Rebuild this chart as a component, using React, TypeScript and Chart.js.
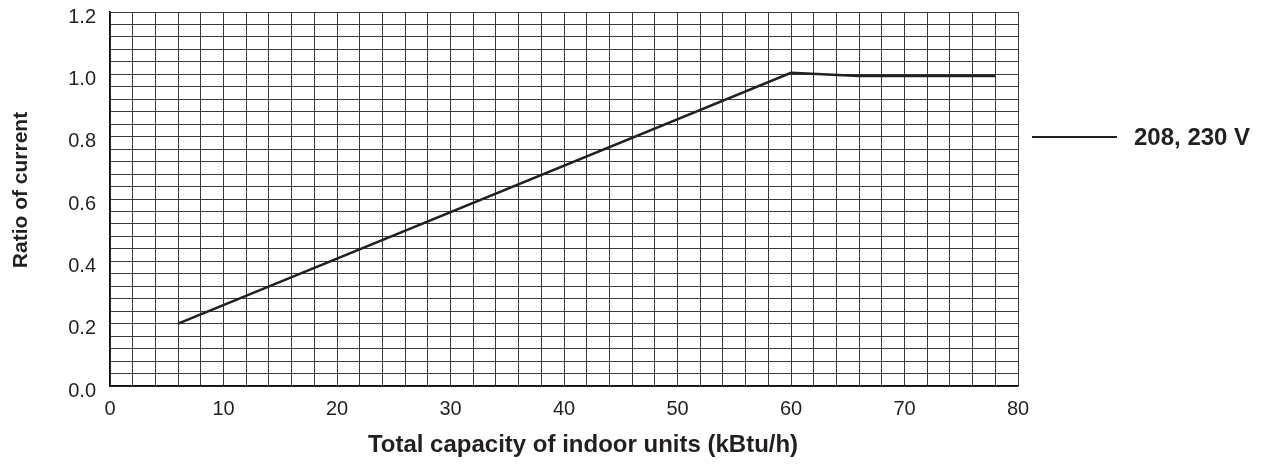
import React, { useEffect, useRef } from "react";
import { Chart, registerables } from "chart.js";

Chart.register(...registerables);

const capacity = [6, 60, 66, 78];
const ratio = [0.2, 1.005, 0.995, 0.995];
const seriesLabel = "208, 230 V";
const xTitle = "Total capacity of indoor units (kBtu/h)";
const yTitle = "Ratio of current";
const xMin = 0, xMax = 80, xStep = 2, xLabelEvery = 10;
const yMin = 0, yMax = 1.2, yStep = 0.04, yLabelEvery = 0.2;

const FONT = "'Liberation Sans', Arial, Helvetica, sans-serif";
const INK = "#231f20";
const GRID = "#3a3a3a";

const annotations = {
  id: "annotations",
  afterDraw(chart: any) {
    const { ctx, chartArea } = chart;
    const ds = chart.data.datasets[0];
    const y = chartArea.top + 125;
    const x0 = chartArea.right + 14;
    ctx.save();
    // legend entry on the right
    ctx.strokeStyle = ds.borderColor;
    ctx.lineWidth = 2;
    ctx.beginPath();
    ctx.moveTo(x0, y);
    ctx.lineTo(x0 + 85, y);
    ctx.stroke();
    ctx.fillStyle = INK;
    ctx.font = `bold 24px ${FONT}`;
    ctx.textBaseline = "middle";
    ctx.textAlign = "left";
    ctx.fillText(ds.label, x0 + 102, y + 1);
    // x axis title
    ctx.textAlign = "center";
    ctx.fillText(xTitle, (chartArea.left + chartArea.right) / 2 + 19, chart.scales.x.bottom - 19);
    // y axis title
    ctx.font = `bold 21px ${FONT}`;
    ctx.translate(21, (chartArea.top + chartArea.bottom) / 2 - 9);
    ctx.rotate(-Math.PI / 2);
    ctx.fillText(yTitle, 0, 0);
    ctx.restore();
  },
};

export default function App() {
  const ref = useRef<HTMLCanvasElement>(null);
  useEffect(() => {
    document.body.style.margin = "0";
    const canvas = ref.current!;
    const chart = new Chart(canvas, {
      type: "line",
      data: {
        datasets: [
          {
            label: seriesLabel,
            data: capacity.map((x, i) => ({ x, y: ratio[i] })),
            borderColor: INK,
            borderWidth: 2.5,
            pointRadius: 0,
            tension: 0,
            fill: false,
          },
        ],
      },
      options: {
        responsive: false,
        animation: false,
        layout: { padding: { left: 0, right: 248, top: 12, bottom: 0 } },
        plugins: { legend: { display: false }, tooltip: { enabled: false } },
        scales: {
          x: {
            type: "linear",
            min: xMin,
            max: xMax,
            afterFit: (s: any) => {
              s.height = 78;
              s.paddingLeft = 0;
              s.paddingRight = 0;
            },
            ticks: {
              stepSize: xStep,
              autoSkip: false,
              maxRotation: 0,
              padding: 11,
              color: INK,
              font: { family: FONT, size: 20 },
              callback: (v: any) => (Math.round(v) % xLabelEvery === 0 ? String(v) : ""),
            },
            grid: { color: GRID, lineWidth: 1, drawTicks: false },
            border: { display: true, color: "#111", width: 1.5 },
            title: { display: false, text: xTitle },
          },
          y: {
            type: "linear",
            min: yMin,
            max: yMax,
            afterFit: (s: any) => {
              s.width = 110;
              s.paddingTop = 0;
              s.paddingBottom = 0;
            },
            ticks: {
              stepSize: yStep,
              autoSkip: false,
              padding: 14,
              labelOffset: 5,
              color: INK,
              font: { family: FONT, size: 20 },
              callback: (v: any) => {
                const r = Math.round(v * 100);
                return r % Math.round(yLabelEvery * 100) === 0 ? (r / 100).toFixed(1) : "";
              },
            },
            grid: { color: GRID, lineWidth: 1, drawTicks: false },
            border: { display: true, color: "#111", width: 1.5 },
            title: { display: false, text: yTitle },
          },
        },
      },
      plugins: [annotations],
    });
    return () => chart.destroy();
  }, []);
  return <canvas ref={ref} width={1266} height={464} style={{ display: "block" }} />;
}
